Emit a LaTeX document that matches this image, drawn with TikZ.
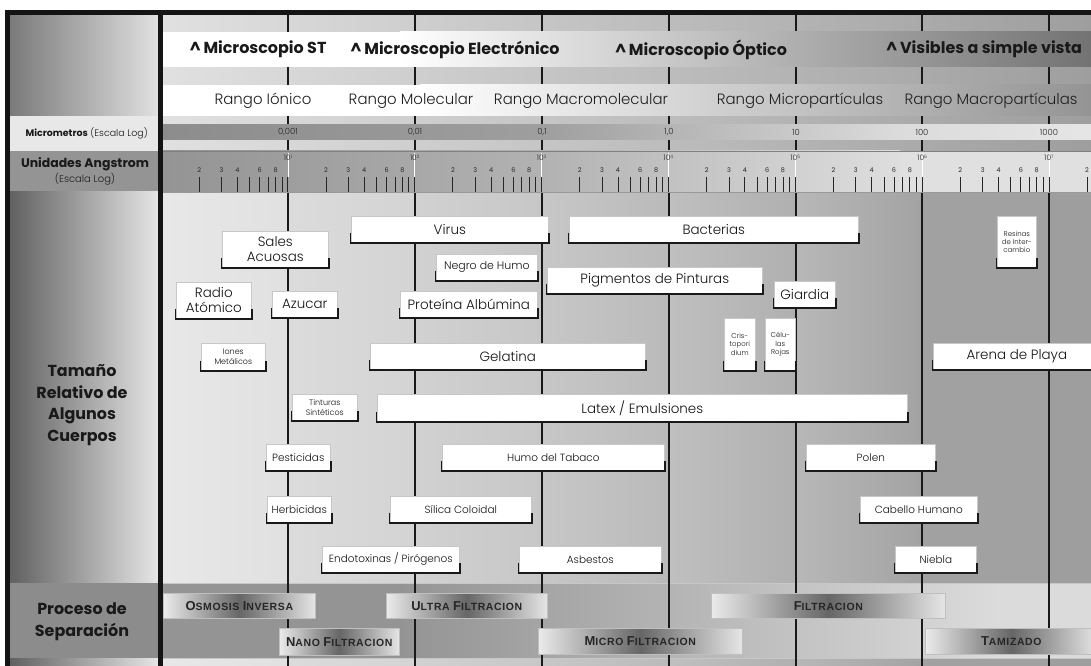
\documentclass[tikz,border=0pt]{standalone}
\usepackage{fontspec}
\setmainfont{Poppins}
\newfontfamily\lightfont{Poppins Light}
\newfontfamily\procfont{Liberation Sans}[LetterSpace=6]
\newcommand\szA{\lightfont\fontsize{13.5}{15}\selectfont}
\newcommand\szB{\lightfont\fontsize{10.5}{12.5}\selectfont}
\newcommand\szN{\lightfont\fontsize{11}{13}\selectfont}
\newcommand\szC{\lightfont\fontsize{8}{10}\selectfont}
\newcommand\szD{\lightfont\fontsize{7}{8.4}\selectfont}
\newcommand\psc[2]{{\fontsize{13}{13}\selectfont #1}{\fontsize{10.5}{10.5}\selectfont #2}}
\tikzset{
 objbox/.style={draw=black!22, line width=0.6bp, fill=white, inner sep=0pt, anchor=north west, align=center, text=black!92},
 bracket/.style={line width=1.6bp, black!90},
 procbox/.style={draw=black!25, line width=0.6bp, left color=black!8, right color=black!10, middle color=black!60, anchor=north west, inner sep=0pt, text=black!85, font=\procfont\bfseries},
 decade/.style={line width=1.4bp, black!90},
 tick/.style={line width=0.9bp, black!85},
 tlab/.style={font=\fontsize{6.5}{6.5}\selectfont, text=black!85, inner sep=0pt},
}
\newcommand\obj[7]{%
 \node[objbox, font=#6, minimum width={(#4-#2)*1bp}, minimum height={(#5-#3)*1bp}] (#1) at (#2,#3) {#7};
 \draw[bracket] ([xshift=-0.6bp,yshift=10bp]#1.south west) |- ([xshift=0.6bp,yshift=-0.6bp]#1.south east) -- ++(0bp,10.6bp);
}
\newcommand\proc[6]{%
 \node[procbox, minimum width={(#4-#2)*1bp}, minimum height={(#5-#3)*1bp}] (#1) at (#2,#3) {#6};
}
\begin{document}
\begin{tikzpicture}[x=1bp,y=-1bp]
\useasboundingbox (0,0) rectangle (1091,666);
\clip (0,0) rectangle (1091,666);
\fill[white] (0,0) rectangle (1091,666);
% top area background
\shade[left color=black!12, right color=black!38] (163,15) rectangle (1091,192);
% body columns
\foreach \xa/\xb/\ca/\cb in {163/288/9/12, 288/415/14/17, 415/542/18/22, 542/669/22/27, 669/796/25/31, 796/922/28/36, 922/1049/37/37, 1049/1091/38/38}
  \shade[left color=black!\ca, right color=black!\cb] (\xa,192) rectangle (\xb,666);
% proceso band
\fill[black!42] (163,583) rectangle (400,658);
\shade[left color=black!42, right color=black!14] (400,583) rectangle (1000,658);
\fill[black!14] (1000,583) rectangle (1091,658);
\draw[black!22, line width=0.8bp] (10,583) -- (1091,583);
\draw[black!22, line width=0.8bp] (10,658) -- (1091,658);
% decade lines
\foreach \x in {288,415,542,669,796,922,1049}
  \draw[decade] (\x,15) -- (\x,666);
% microscope band
\fill[white] (163,32) rectangle (400,67);
\shade[left color=white, right color=black!55] (400,32) rectangle (1091,67);
% rango band
\fill[white] (163,85) rectangle (420,116);
\shade[left color=white, right color=black!42] (420,85) rectangle (1091,116);
% micrometros bar
\shade[left color=black!45, right color=black!38] (163,125) rectangle (540,140);
\shade[left color=black!38, right color=black!14] (540,125) rectangle (900,140);
\shade[left color=black!14, right color=black!10] (900,125) rectangle (1091,140);
% angstrom band
\shade[left color=black!42, right color=black!30] (163,151) rectangle (545,192);
\shade[left color=black!30, right color=black!13] (545,151) rectangle (900,192);
\fill[black!12] (900,151) rectangle (1091,192);
\draw[black!50, line width=0.8bp] (163,151) -- (1091,151);
\draw[black!40, line width=0.6bp] (163,192) -- (1091,192);
% angstrom ticks
\foreach \d in {0,...,7}{
  \foreach \k in {2,...,9}{
    \pgfmathsetmacro\xx{161+126.86*(\d+log10(\k))}
    \draw[tick] (\xx,177) -- (\xx,192);
  }
}
\foreach \d in {0,...,6}{
  \foreach \k in {2,3,4,6,8}{
    \pgfmathsetmacro\xx{161+126.86*(\d+log10(\k))}
    \node[tlab] (tl\d\k) at (\xx,170) {\k};
  }
}
\node[tlab] (tl72) at (1087,170) {2};
\foreach \d in {1,...,7}{
  \pgfmathsetmacro\xx{161+126.86*\d}
  \draw[white, line width=0.5bp] (\xx,153) -- (\xx,177);
  \draw[tick] (\xx,177) -- (\xx,192);
  \node[font=\lightfont\fontsize{7.5}{7.5}\selectfont, text=black!85, inner sep=0pt] (dl\d) at (\xx,157.5) {10\raisebox{2bp}{\fontsize{4.5}{5}\selectfont\d}};
}
% micrometros labels
\tikzset{mul/.style={font=\lightfont\fontsize{8.5}{8.5}\selectfont, text=black!85, inner sep=0pt}}
\node[mul] (mu1) at (288,132.5) {0,001};
\node[mul] (mu2) at (415,132.5) {0,01};
\node[mul] (mu3) at (542,132.5) {0,1};
\node[mul] (mu4) at (669,132.5) {1,0};
\node[mul] (mu5) at (796,132.5) {10};
\node[mul] (mu6) at (922,132.5) {100};
\node[mul] (mu7) at (1049,132.5) {1000};
% microscope texts
\tikzset{mst/.style={font=\bfseries\fontsize{16}{16}\selectfont, text=black!90, inner sep=0pt}}
\node[mst] (ms1) at (258,49.5) {\textasciicircum\,Microscopio ST};
\node[mst] (ms2) at (455,49.5) {\textasciicircum\,Microscopio Electrónico};
\node[mst] (ms3) at (701,49.5) {\textasciicircum\,Microscopio Óptico};
\node[mst] (ms4) at (984,49.5) {\textasciicircum\,Visibles a simple vista};
% rango texts
\tikzset{rng/.style={font=\lightfont\fontsize{15}{15}\selectfont, text=black!88, inner sep=0pt}}
\node[rng] (r1) at (263,101) {Rango Iónico};
\node[rng] (r2) at (411,101) {Rango Molecular};
\node[rng] (r3) at (581,101) {Rango Macromolecular};
\node[rng] (r4) at (800,101) {Rango Micropartículas};
\node[rng] (r5) at (991,101) {Rango Macropartículas};
% left column
\shade[left color=black!52, right color=black!12] (10,15) rectangle (158,116);
\fill[black!9] (10,116) rectangle (158,151);
\fill[black!42] (10,151) rectangle (158,192);
\shade[left color=black!62, right color=black!10] (10,192) rectangle (158,583);
\fill[black!45] (10,583) rectangle (158,658);
\shade[left color=black!62, right color=black!10] (10,658) rectangle (158,666);
\node[anchor=east, font=\fontsize{9.5}{9.5}\selectfont, text=black!90, inner sep=0pt] (lmu) at (148,133) {\textbf{Micrometros} {\lightfont (Escala Log)}};
\node[font=\bfseries\fontsize{12.5}{14}\selectfont, text=black!90, inner sep=0pt] (lang1) at (85,164) {Unidades Angstrom};
\node[font=\lightfont\fontsize{10}{12}\selectfont, text=black!88, inner sep=0pt] (lang2) at (85,179) {(Escala Log)};
\node[font=\bfseries\fontsize{16}{21.7}\selectfont, align=center, text=black!90, inner sep=0pt] (ltam) at (82,405) {Tamaño\\Relativo de\\Algunos\\Cuerpos};
\node[font=\bfseries\fontsize{16}{22}\selectfont, align=center, text=black!90, inner sep=0pt] (lproc) at (82,622) {Proceso de\\Separación};
% body boxes
\obj{virus}{351}{216}{548}{242}{\szA}{Virus}
\obj{bact}{569}{216}{858}{242}{\szA}{Bacterias}
\obj{sales}{222}{231}{328}{267}{\szA}{Sales\\Acuosas}
\obj{negro}{436}{254}{537}{280}{\szN}{Negro de Humo}
\obj{pigm}{547}{267}{762}{293}{\szA}{Pigmentos de Pinturas}
\obj{radio}{176}{282}{251}{318}{\szA}{Radio\\Atómico}
\obj{azucar}{272}{291}{337}{317}{\szA}{Azucar}
\obj{prot}{400}{291}{537}{317}{\szA}{Proteína Albúmina}
\obj{giardia}{774}{281}{835}{307}{\szA}{Giardia}
\obj{crist}{724}{318}{755}{370}{\szD}{Cris-\\topori\\dium}
\obj{celulas}{765}{318}{795}{370}{\szD}{Célu-\\las\\Rojas}
\obj{iones}{201}{343}{265}{370}{\szC}{Iones\\Metálicos}
\obj{gelatina}{370}{343}{645}{369}{\szA}{Gelatina}
\obj{arena}{933}{343}{1100}{369}{\szA}{Arena de Playa}
\obj{resinas}{997}{216}{1036}{267}{\szD}{Resinas\\de Inter-\\cambio}
\obj{tint}{292}{394}{357}{420}{\szC}{Tinturas\\Sintéticos}
\obj{latex}{377}{394}{907}{421}{\szA}{Latex / Emulsiones}
\obj{pest}{266}{444}{330}{470}{\szB}{Pesticidas}
\obj{humo}{442}{444}{664}{470}{\szB}{Humo del Tabaco}
\obj{polen}{806}{444}{935}{470}{\szB}{Polen}
\obj{herb}{267}{496}{331}{522}{\szB}{Herbicidas}
\obj{silica}{390}{496}{531}{522}{\szB}{Sílica Coloidal}
\obj{cabello}{860}{496}{977}{522}{\szB}{Cabello Humano}
\obj{endo}{322}{546}{459}{572}{\szB}{Endotoxinas / Pirógenos}
\obj{asb}{519}{546}{661}{572}{\szB}{Asbestos}
\obj{niebla}{895}{546}{976}{572}{\szB}{Niebla}
% process boxes
\proc{osm}{163}{593}{315}{618}{\psc{O}{SMOSIS} \psc{I}{NVERSA}}
\proc{ultra}{386}{593}{547}{618}{\psc{U}{LTRA} \psc{F}{ILTRACION}}
\proc{filt}{711}{593}{945}{618}{\psc{F}{ILTRACION}}
\proc{nano}{279}{628}{399}{655}{\psc{N}{ANO} \psc{F}{ILTRACION}}
\proc{micro}{538}{628}{742}{654}{\psc{M}{ICRO} \psc{F}{ILTRACION}}
\proc{tam}{925}{628}{1097}{654}{\psc{T}{AMIZADO}}
% black borders
\fill[black!92] (5,10) rectangle (1091,15);
\fill[black!92] (5,10) rectangle (10,666);
\fill[black!92] (157.5,10) rectangle (163,666);
\end{tikzpicture}
\end{document}
